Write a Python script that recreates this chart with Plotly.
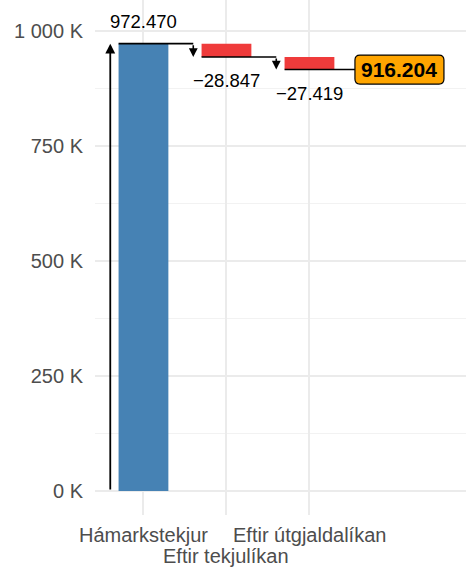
import plotly.graph_objects as go

categories = ["Hámarkstekjur", "Eftir tekjulíkan", "Eftir útgjaldalíkan"]
start_value = 972470
changes = [-28847, -27419]
final_value = 916204
y_tick_values = [0, 250000, 500000, 750000, 1000000]
y_tick_labels = ["0 K", "250 K", "500 K", "750 K", "1 000 K"]
y_minor_values = [125000, 375000, 625000, 875000]


def fmt(v):
    s = f"{abs(v):,}".replace(",", ".")
    return ("\u2212" if v < 0 else "") + s


levels = [start_value]
for c in changes:
    levels.append(levels[-1] + c)

xs = list(range(1, len(categories) + 1))
W = 0.6
FONT = "Liberation Sans, Arial, sans-serif"

fig = go.Figure()
fig.add_bar(x=[xs[0]], y=[start_value], base=[0], width=W,
            marker=dict(color="#4682B4", line=dict(width=0)))
fig.add_bar(x=xs[1:], y=[-c for c in changes], base=levels[1:], width=W,
            marker=dict(color="#EF3B3B", line=dict(width=0)))

line_style = dict(color="black", width=1.6)

# vertical arrow for the starting value
fig.add_annotation(x=xs[0] - 0.4, y=start_value, ax=xs[0] - 0.4, ay=0,
                   xref="x", yref="y", axref="x", ayref="y", text="",
                   showarrow=True, arrowhead=2, arrowsize=1.1, arrowwidth=1.8,
                   arrowcolor="black", standoff=0)

# step connectors
for i in range(len(changes)):
    x = xs[i]
    fig.add_shape(type="line", x0=x - W / 2, x1=x + 0.6, y0=levels[i], y1=levels[i],
                  xref="x", yref="y", line=line_style)
    fig.add_annotation(x=x + 0.6, y=levels[i + 1], ax=x + 0.6, ay=levels[i],
                       xref="x", yref="y", axref="x", ayref="y", text="",
                       showarrow=True, arrowhead=2, arrowsize=1.1, arrowwidth=1.6,
                       arrowcolor="black", standoff=0)

# final connector to label
label_x = xs[-1] + 0.548
fig.add_shape(type="line", x0=xs[-1] - W / 2, x1=label_x, y0=levels[-1], y1=levels[-1],
              xref="x", yref="y", line=line_style)

# value labels
fig.add_annotation(x=xs[0], y=start_value, text=fmt(start_value), showarrow=False,
                   yanchor="bottom", yshift=10, font=dict(size=18.5, color="black", family=FONT))
for i, c in enumerate(changes):
    fig.add_annotation(x=xs[i + 1], y=levels[i + 1], text=fmt(c), showarrow=False,
                       yanchor="top", yshift=-11, font=dict(size=18.5, color="black", family=FONT))

# final label box (rounded)
bw, bh, r = 89, 29, 5
path = (f"M {r},{-bh/2} L {bw-r},{-bh/2} Q {bw},{-bh/2} {bw},{-bh/2+r} "
        f"L {bw},{bh/2-r} Q {bw},{bh/2} {bw-r},{bh/2} L {r},{bh/2} "
        f"Q 0,{bh/2} 0,{bh/2-r} L 0,{-bh/2+r} Q 0,{-bh/2} {r},{-bh/2} Z")
fig.add_shape(type="path", path=path, xref="x", yref="y",
              xsizemode="pixel", ysizemode="pixel", xanchor=label_x, yanchor=final_value,
              fillcolor="#FFA500", line=dict(color="black", width=1.2))
fig.add_annotation(x=label_x, y=final_value, xshift=bw / 2, text=f"<b>{fmt(final_value)}</b>",
                   showarrow=False, font=dict(size=21, color="black", family=FONT))

# category labels, alternating rows
for i, c in enumerate(categories):
    fig.add_annotation(x=xs[i], y=0, xref="x", yref="paper", text=c, showarrow=False,
                       yanchor="middle", yshift=-20 if i % 2 == 0 else -41,
                       font=dict(size=20, color="#4D4D4D", family=FONT))

fig.update_layout(
    width=466, height=567,
    margin=dict(l=95, r=0, t=0, b=52),
    plot_bgcolor="white", paper_bgcolor="white",
    showlegend=False, barmode="overlay",
    font=dict(family=FONT),
    xaxis=dict(range=[0.416, 4.886], tickvals=xs, showticklabels=False,
               automargin=False,
               showgrid=True, gridcolor="#EBEBEB", gridwidth=1.5, zeroline=False,
               showline=False, ticks=""),
    yaxis=dict(range=[-52170, 1067390], tickvals=y_tick_values, ticktext=y_tick_labels,
               automargin=False,
               showgrid=True, gridcolor="#EBEBEB", gridwidth=1.5, zeroline=False,
               showline=False, ticks="", tickfont=dict(size=20, color="#4D4D4D"),
               ticklabelstandoff=11,
               minor=dict(tickvals=y_minor_values, showgrid=True, gridcolor="#F2F2F2",
                          gridwidth=1, ticks="")),
)

fig.write_html("out.html", config={"displayModeBar": False},
               post_script="document.body.style.margin='0';")
